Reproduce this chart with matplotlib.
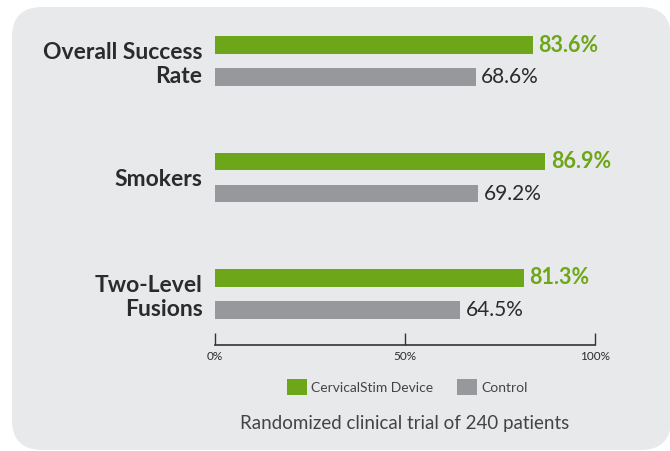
import matplotlib
matplotlib.use("Agg")
import matplotlib.pyplot as plt
from matplotlib.patches import FancyBboxPatch, Patch
import numpy as np

plt.rcParams['font.family'] = ['Lato', 'DejaVu Sans']

categories = ["Overall Success\nRate", "Smokers", "Two-Level\nFusions"]
device = [83.6, 86.9, 81.3]
control = [68.6, 69.2, 64.5]
series_names = ["CervicalStim Device", "Control"]
xticks = [0, 50, 100]
xticklabels = ["0%", "50%", "100%"]
caption = "Randomized clinical trial of 240 patients"

GREEN = "#6ea619"
GRAY = "#97989c"
BG = "#e8e9eb"
TEXT = "#2b2b2b"

W, H = 670, 451
fig = plt.figure(figsize=(W / 100, H / 100), dpi=100)
fig.patch.set_facecolor("white")

# rounded background panel
bg = FancyBboxPatch((12 / W, 1 - 450 / H), (671 - 12) / W, (450 - 7) / H,
                    boxstyle="round,pad=0,rounding_size=0.045",
                    transform=fig.transFigure, facecolor=BG, edgecolor="none",
                    mutation_aspect=W / H, zorder=-5)
fig.patches.append(bg)

# axes geometry in pixels
x0, x1 = 215, 595
ytop, ybot = 30, 345
ax = fig.add_axes([x0 / W, 1 - ybot / H, (x1 - x0) / W, (ybot - ytop) / H])
ax.set_facecolor("none")
ax.set_zorder(2)

spacing = 116.5
g0 = 61
ax.set_xlim(0, 100)
ax.set_ylim((ybot - g0) / spacing, (ytop - g0) / spacing)

y = np.arange(len(categories))
bh = 17.5 / spacing
off = 16 / spacing
ax.barh(y - off, device, height=bh, color=GREEN, label=series_names[0], zorder=2)
ax.barh(y + off, control, height=bh, color=GRAY, label=series_names[1], zorder=2)

for yi, v in zip(y, device):
    ax.annotate(f"{v:.1f}%", (v, yi - off), xytext=(4, 0), textcoords="offset points",
                va="center", ha="left", fontsize=15.5, fontweight="bold", color=GREEN)
for yi, v in zip(y, control):
    ax.annotate(f"{v:.1f}%", (v, yi + off), xytext=(4, 0), textcoords="offset points",
                va="center", ha="left", fontsize=15, color=TEXT)

ax.set_yticks(y)
ax.set_yticklabels(categories, fontsize=16.5, fontweight="bold", color=TEXT,
                   linespacing=1.2, ha="right")
ax.tick_params(axis="y", length=0, pad=9)

ax.set_xticks(xticks)
ax.set_xticklabels(xticklabels, fontsize=8.5, color=TEXT)
ax.tick_params(axis="x", direction="in", length=9, width=1, color="#333333", pad=4)
for s in ["top", "right", "left"]:
    ax.spines[s].set_visible(False)
ax.spines["bottom"].set_color("#333333")
ax.spines["bottom"].set_linewidth(1.2)

handles = [Patch(facecolor=GREEN, edgecolor="none"), Patch(facecolor=GRAY, edgecolor="none")]
leg = fig.legend(handles, series_names, loc="center", bbox_to_anchor=(407 / W, 1 - 387 / H),
                 ncol=2, frameon=False, fontsize=10, handlelength=1.45, handleheight=1.3,
                 handletextpad=0.3, columnspacing=1.7, labelcolor="#444444")

fig.text(405 / W, 1 - 424 / H, caption, ha="center", va="center", fontsize=13.5, color="#444444")

fig.savefig("out.png", dpi=100, facecolor=fig.get_facecolor())
